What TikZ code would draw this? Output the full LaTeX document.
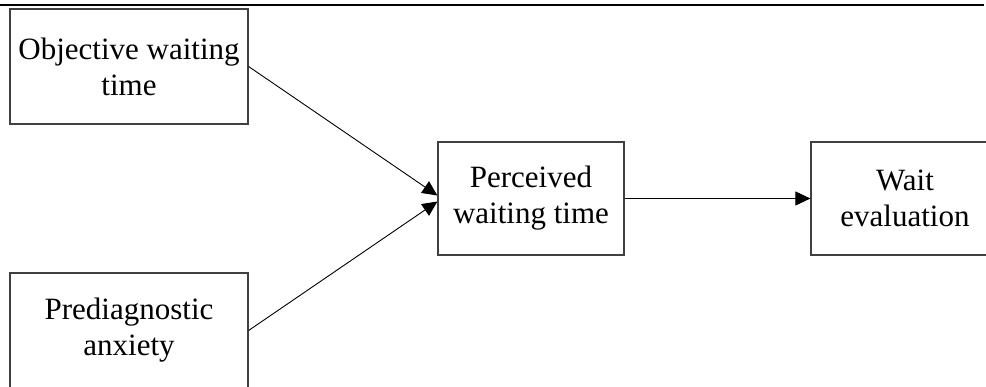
\documentclass[tikz,border=0pt]{standalone}
\usepackage{fontspec}
\setmainfont{Liberation Serif}
\usetikzlibrary{arrows.meta}
\begin{document}
\begin{tikzpicture}[x=1pt,y=-1pt,
  box/.style={draw=black!75, line width=1.2pt, rectangle, inner sep=0pt, align=center,
    font=\fontsize{31}{36}\selectfont},
  conn/.style={line width=0.9pt, -{Triangle[length=15pt,width=14pt]}}]
\useasboundingbox (0,0) rectangle (986,386);
\clip (0,0) rectangle (986,386);
\draw[line width=1.5pt] (0,5) -- (984,5);
\node[box, minimum width=238pt, minimum height=115pt] (obj) at (129,66.5) {Objective waiting\\time};
\node[box, minimum width=238pt, minimum height=115pt] (anx) at (129,330.5) {Prediagnostic\\anxiety};
\node[box, minimum width=186pt, minimum height=113pt] (per) at (531,198.5) {Perceived\\waiting time};
\node[box, minimum width=188pt, minimum height=113pt] (wait) at (905,198.5) {Wait\\evaluation};
\draw[conn] (obj.east) -- ([yshift=3pt]per.west);
\draw[conn] (anx.east) -- ([yshift=-3pt]per.west);
\draw[conn] (per.east) -- (wait.west);
\end{tikzpicture}
\end{document}
